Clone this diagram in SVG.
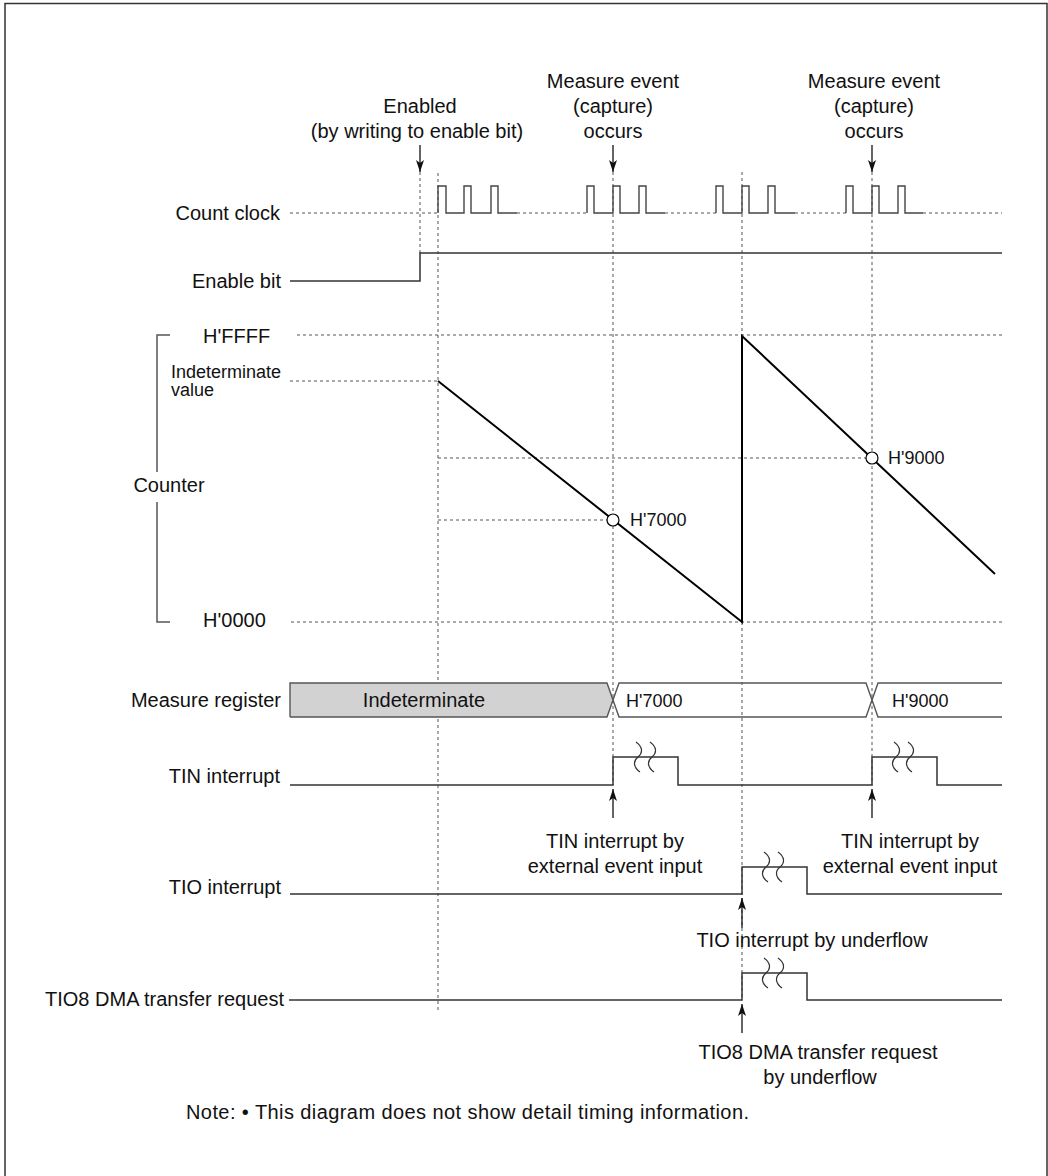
<svg xmlns="http://www.w3.org/2000/svg" width="1048" height="1176" viewBox="0 0 1048 1176">
<style>
text{font-family:"Liberation Sans",Arial,sans-serif;font-size:20px;fill:#111}
.sm{font-size:18px}
.e{text-anchor:end}
.m{text-anchor:middle}
.sig{fill:none;stroke:#333;stroke-width:1.5}
.clk{fill:none;stroke:#444;stroke-width:1.4}
.dot{fill:none;stroke:#555;stroke-width:1;stroke-dasharray:3 3}
.arr{fill:none;stroke:#111;stroke-width:1.3}
.sq{fill:none;stroke:#333;stroke-width:1.2}
</style>
<defs>
<marker id="ah" viewBox="0 0 12 8" refX="12" refY="4" markerWidth="12" markerHeight="8" markerUnits="userSpaceOnUse" orient="auto">
<path d="M0,0 L12,4 L0,8 L3,4 Z" fill="#111"/>
</marker>
<path id="squig" d="M-2,-15 C5,-10 5,-4 0,0 C-5,4 -5,10 2,15" class="sq"/>
</defs>
<rect width="1048" height="1176" fill="#fff"/>
<path d="M5,1180 V3.5 H1047 V1180" fill="none" stroke="#333" stroke-width="1.5"/>

<g id="guides">
<path class="dot" d="M420,172 V253 M438,173 V1012 M613,172 V785 M742,172 V1000 M872,172 V785"/>
<path class="dot" d="M290,213 H438 M517,213 H587 M665,213 H716 M795,213 H846 M923,213 H1002"/>
<path class="dot" d="M297,335 H1002 M290,381 H438 M438,458 H872 M438,520 H613 M291,622 H1002"/>
</g>

<g id="top-labels">
<text class="m" x="420" y="113">Enabled</text>
<text class="m" x="417" y="138">(by writing to enable bit)</text>
<text class="m" x="613" y="88">Measure event</text>
<text class="m" x="613" y="113">(capture)</text>
<text class="m" x="613" y="138">occurs</text>
<text class="m" x="874" y="88">Measure event</text>
<text class="m" x="874" y="113">(capture)</text>
<text class="m" x="874" y="138">occurs</text>
</g>

<g id="count-clock">
<text class="e" x="280" y="220">Count clock</text>
<path class="clk" d="M438,213 V186 H446 V213 H464 V186 H471 V213 H491 V186 H498 V213 H517"/>
<path class="clk" d="M587,213 V186 H594 V213 H613 V186 H620 V213 H639 V186 H646 V213 H665"/>
<path class="clk" d="M716,213 V186 H723 V213 H742 V186 H749 V213 H768 V186 H775 V213 H795"/>
<path class="clk" d="M846,213 V186 H853 V213 H872 V186 H879 V213 H898 V186 H905 V213 H923"/>
</g>

<g id="enable-bit">
<text class="e" x="281" y="288">Enable bit</text>
<path class="sig" d="M290,281 H420 V253 H1002"/>
</g>

<g id="counter">
<path fill="none" stroke="#555" stroke-width="1.5" d="M170,335 H157 V472 M157,502 V622 H170"/>
<text class="m" x="169" y="492">Counter</text>
<text x="203" y="343">H'FFFF</text>
<text class="sm" x="171" y="378">Indeterminate</text>
<text class="sm" x="171" y="396">value</text>
<text x="203" y="627">H'0000</text>
<path fill="none" stroke="#000" stroke-width="2" d="M438,381 L742,622 V336 L995,574"/>
<circle cx="613" cy="520" r="6" fill="#fff" stroke="#000" stroke-width="1.2"/>
<circle cx="872" cy="458" r="6" fill="#fff" stroke="#000" stroke-width="1.2"/>
<text class="sm" x="630" y="526">H'7000</text>
<text class="sm" x="888" y="464">H'9000</text>
</g>

<g id="measure-register">
<text class="e" x="281" y="707">Measure register</text>
<path d="M290,683 H607 L613,700 L607,717 H290 Z" fill="#d2d2d2"/>
<path fill="none" stroke="#555" stroke-width="1.4" d="M290,717 V683 H607 L619,717 H866 L878,683 H1002 M290,717 H607 L619,683 H866 L878,717 H1002"/>
<text class="m" x="424" y="707">Indeterminate</text>
<text class="sm" x="626" y="707">H'7000</text>
<text class="sm" x="892" y="707">H'9000</text>
</g>

<g id="tin-interrupt">
<text class="e" x="280" y="783">TIN interrupt</text>
<path class="sig" d="M290,785 H613 V757 H678 V785 H872 V757 H937 V785 H1002"/>
<use href="#squig" x="638" y="757"/>
<use href="#squig" x="652" y="757"/>
<use href="#squig" x="896" y="757"/>
<use href="#squig" x="910" y="757"/>
<text class="m" x="615" y="848">TIN interrupt by</text>
<text class="m" x="615" y="873">external event input</text>
<text class="m" x="910" y="848">TIN interrupt by</text>
<text class="m" x="910" y="873">external event input</text>
</g>

<g id="tio-interrupt">
<text class="e" x="281" y="894">TIO interrupt</text>
<path class="sig" d="M290,894 H742 V867 H807 V894 H1002"/>
<use href="#squig" x="766" y="867"/>
<use href="#squig" x="780" y="867"/>
<text class="m" x="812" y="947">TIO interrupt by underflow</text>
</g>

<g id="tio8-dma">
<text class="e" x="284" y="1006">TIO8 DMA transfer request</text>
<path class="sig" d="M289,1000 H742 V973 H807 V1000 H1002"/>
<use href="#squig" x="766" y="973"/>
<use href="#squig" x="780" y="973"/>
<text class="m" x="818" y="1059">TIO8 DMA transfer request</text>
<text class="m" x="820" y="1084">by underflow</text>
</g>

<g id="connectors">
<line class="arr" x1="420" y1="145" x2="420" y2="172" marker-end="url(#ah)"/>
<line class="arr" x1="613" y1="145" x2="613" y2="172" marker-end="url(#ah)"/>
<line class="arr" x1="872" y1="145" x2="872" y2="172" marker-end="url(#ah)"/>
<line class="arr" x1="613" y1="818" x2="613" y2="789" marker-end="url(#ah)"/>
<line class="arr" x1="872" y1="818" x2="872" y2="789" marker-end="url(#ah)"/>
<line class="arr" x1="742" y1="928" x2="742" y2="898" marker-end="url(#ah)"/>
<line class="arr" x1="742" y1="1033" x2="742" y2="1004" marker-end="url(#ah)"/>
</g>

<text x="186" y="1119" textLength="563" lengthAdjust="spacing">Note: • This diagram does not show detail timing information.</text>
</svg>
